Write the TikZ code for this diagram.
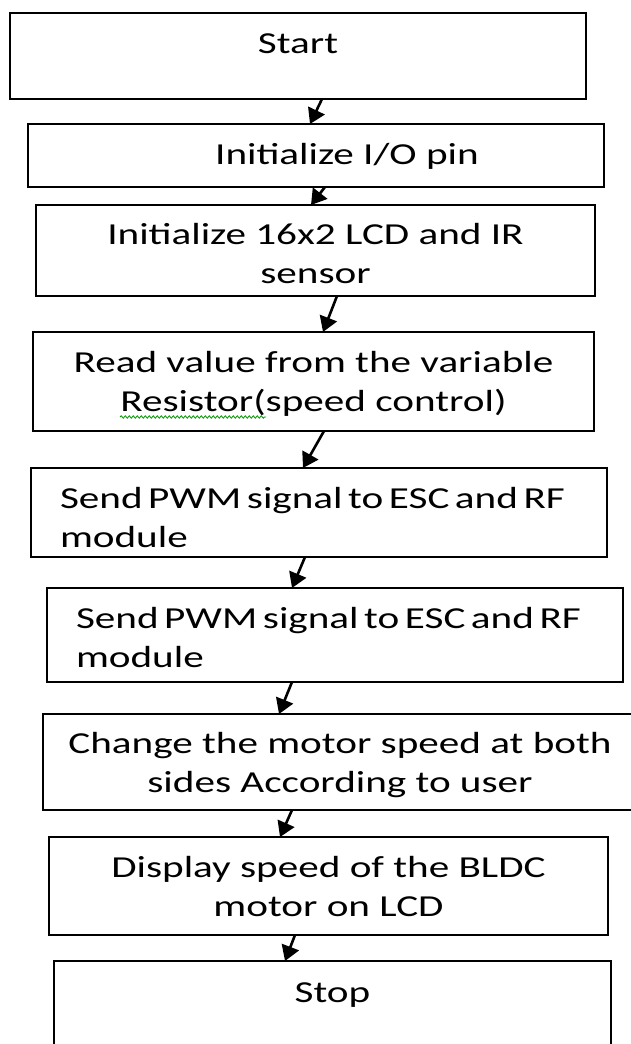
\documentclass[tikz,border=0pt]{standalone}
\usepackage{fontspec}
\setmainfont{Carlito}[FakeStretch=1.35]
\usetikzlibrary{arrows.meta,decorations.pathmorphing}
\newcommand{\tightspaces}{\spaceskip=0.6\fontdimen2\font\relax}
\begin{document}
\begin{tikzpicture}[x=1pt,y=-1pt,
  box/.style={draw, line width=2.8pt, rectangle, inner sep=0pt, outer sep=0pt,
    font=\fontsize{30.5}{39}\selectfont, anchor=center},
  arr/.style={line width=2.6pt, -{Triangle[length=15pt,width=18pt]}},
  squiggle/.style={draw=green!60!black, line width=0.8pt, decorate,
    decoration={snake, amplitude=1.2pt, segment length=4pt}}]
\useasboundingbox (0,0) rectangle (631,1044);
\fill[white] (0,0) rectangle (631,1044);

\node[box, minimum width=576pt, minimum height=86pt, text height=40pt, text depth=46pt]
  (b1) at (298,56) {\parbox[t]{576pt}{\centering Start}};
\node[box, minimum width=576pt, minimum height=63pt, text height=40pt, text depth=23pt]
  (b2) at (316,155.5) {\parbox[t]{576pt}{\centering\hspace*{62pt}Initialize I/O pin}};
\node[box, minimum width=559pt, minimum height=91pt, text height=39pt, text depth=52pt]
  (b3) at (315.5,250.5) {\parbox[t]{559pt}{\centering Initialize 16x2 LCD and IR\\sensor}};
\node[box, minimum width=561pt, minimum height=99pt, text height=40pt, text depth=59pt]
  (b4) at (313.5,381.5) {\parbox[t]{561pt}{\centering Read value from the variable\\Resistor(speed control)}};
\node[box, minimum width=576pt, minimum height=89pt, text height=40pt, text depth=49pt]
  (b5) at (319,512.5) {\parbox[t]{576pt}{\raggedright\tightspaces\hspace*{29pt}Send PWM signal to ESC and RF\\\hspace*{29pt}module}};
\node[box, minimum width=576pt, minimum height=94pt, text height=40pt, text depth=54pt]
  (b6) at (335,635) {\parbox[t]{576pt}{\raggedright\tightspaces\hspace*{29pt}Send PWM signal to ESC and RF\\\hspace*{29pt}module}};
\node[box, minimum width=594pt, minimum height=96pt, text height=39pt, text depth=57pt]
  (b7) at (340,762) {\parbox[t]{594pt}{\centering Change the motor speed at both\\sides According to user}};
\node[box, minimum width=559pt, minimum height=98pt, text height=40pt, text depth=58pt]
  (b8) at (328.5,886) {\parbox[t]{559pt}{\centering Display speed of the BLDC\\motor on LCD}};
\node[box, minimum width=557pt, minimum height=98pt, text height=41pt, text depth=57pt]
  (b9) at (332.5,1010) {\parbox[t]{557pt}{\centering Stop}};

\draw[squiggle] (120,417) -- (266,417);

\draw[arr] ([xshift=24pt]b1.south) -- ([xshift=-6pt]b2.north);
\draw[arr] ([xshift=9pt]b2.south) -- ([xshift=-4.5pt]b3.north);
\draw[arr] ([xshift=21.5pt]b3.south) -- ([xshift=9.5pt]b4.north);
\draw[arr] ([xshift=10.5pt]b4.south) -- ([xshift=-16pt]b5.north);
\draw[arr] ([xshift=-14pt]b5.south) -- ([xshift=-43pt]b6.north);
\draw[arr] ([xshift=-43pt]b6.south) -- ([xshift=-61pt]b7.north);
\draw[arr] ([xshift=-48pt]b7.south) -- ([xshift=-48.5pt]b8.north);
\draw[arr] ([xshift=-33.5pt]b8.south) -- ([xshift=-47.5pt]b9.north);
\end{tikzpicture}
\end{document}
